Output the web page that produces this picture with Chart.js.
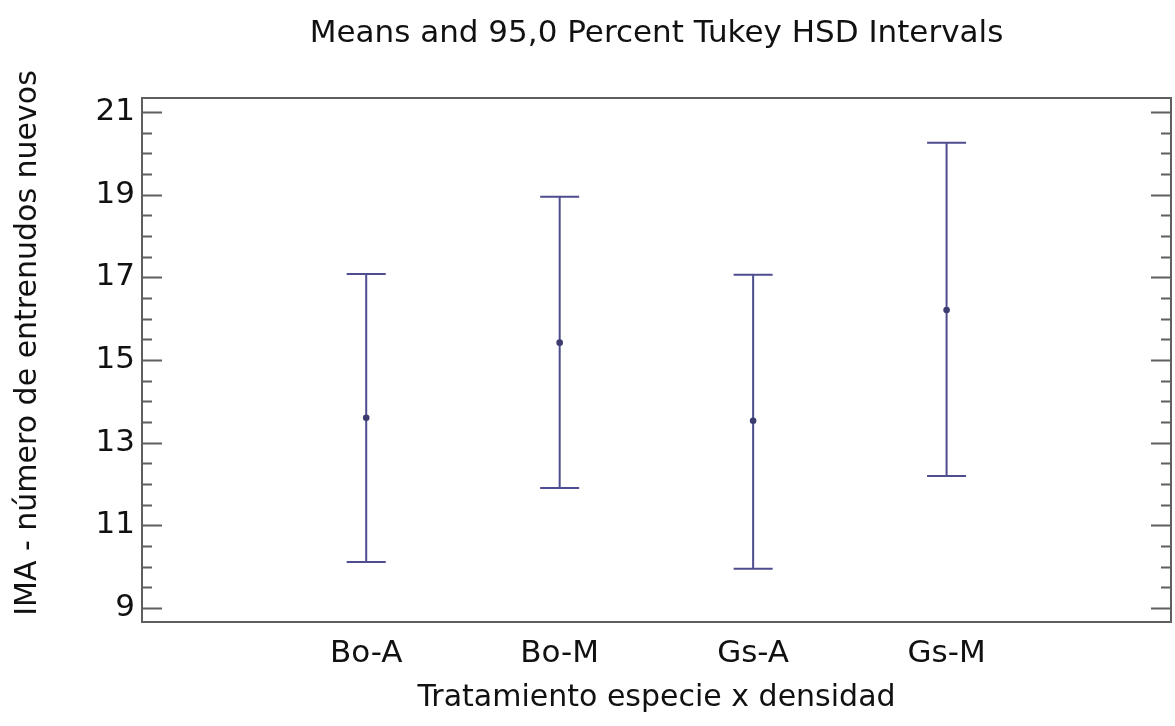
<!DOCTYPE html>
<html>
<head>
<meta charset="utf-8">
<script src="https://cdn.jsdelivr.net/npm/chart.js@4.4.1/dist/chart.umd.min.js"></script>
<style>
html,body{margin:0;padding:0;background:#fff;}
canvas{display:block;}
</style>
</head>
<body>
<canvas id="c" width="1175" height="726"></canvas>
<script>
// ---- data ----
const categories = ["Bo-A", "Bo-M", "Gs-A", "Gs-M"];
const means = [13.60, 15.42, 13.53, 16.21];
const upper = [17.08, 18.95, 17.06, 20.26];
const lower = [10.11, 11.90, 9.95, 12.19];
const yTickValues = [9, 11, 13, 15, 17, 19, 21];
const titleText = "Means and 95,0 Percent Tukey HSD Intervals";
const xTitle = "Tratamiento especie x densidad";
const yTitle = "IMA - número de entrenudos nuevos";

const FONT = "'DejaVu Sans', 'Liberation Sans', Arial, sans-serif";
const BAR = "#4d4d8f";
const FRAME = "#5f5f5f";

const intervalPlugin = {
  id: 'intervals',
  beforeDatasetsDraw(chart) {
    const {ctx, scales: {x, y}} = chart;
    ctx.save();
    ctx.strokeStyle = BAR;
    ctx.lineWidth = 2;
    const half = 19.5;
    for (let i = 0; i < categories.length; i++) {
      const px = x.getPixelForValue(i);
      const pt = y.getPixelForValue(upper[i]);
      const pb = y.getPixelForValue(lower[i]);
      ctx.beginPath();
      ctx.moveTo(px, pt); ctx.lineTo(px, pb);
      ctx.moveTo(px - half, pt); ctx.lineTo(px + half, pt);
      ctx.moveTo(px - half, pb); ctx.lineTo(px + half, pb);
      ctx.stroke();
    }
    ctx.restore();
  },
  afterDraw(chart) {
    const {ctx, chartArea: a, scales: {y}} = chart;
    ctx.save();
    ctx.strokeStyle = FRAME;
    ctx.lineWidth = 2;
    ctx.strokeRect(a.left, a.top, a.right - a.left, a.bottom - a.top);
    // inward ticks on left and right, minor every 0.5, major at labelled values
    ctx.beginPath();
    for (let v = 9; v <= 21.0001; v += 0.5) {
      const py = Math.round(y.getPixelForValue(v)) + 0.5;
      const major = yTickValues.includes(Math.round(v * 10) / 10);
      const len = major ? 20 : 10;
      ctx.moveTo(a.left, py); ctx.lineTo(a.left + len, py);
      ctx.moveTo(a.right, py); ctx.lineTo(a.right - len, py);
    }
    ctx.stroke();
    // y axis title
    ctx.translate(28, 343);
    ctx.rotate(-Math.PI / 2);
    ctx.fillStyle = '#111';
    ctx.font = "30px " + FONT;
    ctx.textAlign = 'center';
    ctx.textBaseline = 'middle';
    ctx.fillText(yTitle, 0, 0);
    ctx.restore();
  }
};

new Chart(document.getElementById('c'), {
  type: 'scatter',
  data: {
    datasets: [{
      data: means.map((m, i) => ({x: i, y: m})),
      pointRadius: 3.3,
      pointBackgroundColor: '#3c3c70',
      pointBorderColor: '#3c3c70',
      pointBorderWidth: 0,
      showLine: false
    }]
  },
  options: {
    responsive: false,
    animation: false,
    devicePixelRatio: 1,
    layout: {padding: {left: 0, right: 2, top: 0, bottom: 0}},
    plugins: {
      legend: {display: false},
      tooltip: {enabled: false},
      title: {
        display: true,
        text: titleText,
        fullSize: false,
        color: '#111',
        font: {family: FONT, size: 31, weight: 'normal'},
        padding: {top: 15.4, bottom: 45.4}
      }
    },
    scales: {
      x: {
        type: 'linear',
        min: -1.159,
        max: 4.16,
        grid: {display: false, drawTicks: false},
        border: {display: false},
        afterBuildTicks: s => { s.ticks = categories.map((c, i) => ({value: i})); },
        afterFit: s => { s.height = 104; },
        ticks: {
          autoSkip: false,
          maxRotation: 0,
          padding: 13,
          color: '#111',
          font: {family: FONT, size: 31},
          callback: v => categories[v]
        },
        title: {
          display: true,
          text: xTitle,
          color: '#111',
          font: {family: FONT, size: 30},
          padding: {top: 0, bottom: 10}
        }
      },
      y: {
        type: 'linear',
        min: 8.66,
        max: 21.34,
        grid: {display: false, drawTicks: false},
        border: {display: false},
        afterBuildTicks: s => { s.ticks = yTickValues.map(v => ({value: v})); },
        afterFit: s => { s.width = 142; },
        ticks: {
          padding: 7,
          color: '#111',
          font: {family: FONT, size: 31}
        },
        title: {display: false}
      }
    }
  },
  plugins: [intervalPlugin]
});
</script>
</body>
</html>
